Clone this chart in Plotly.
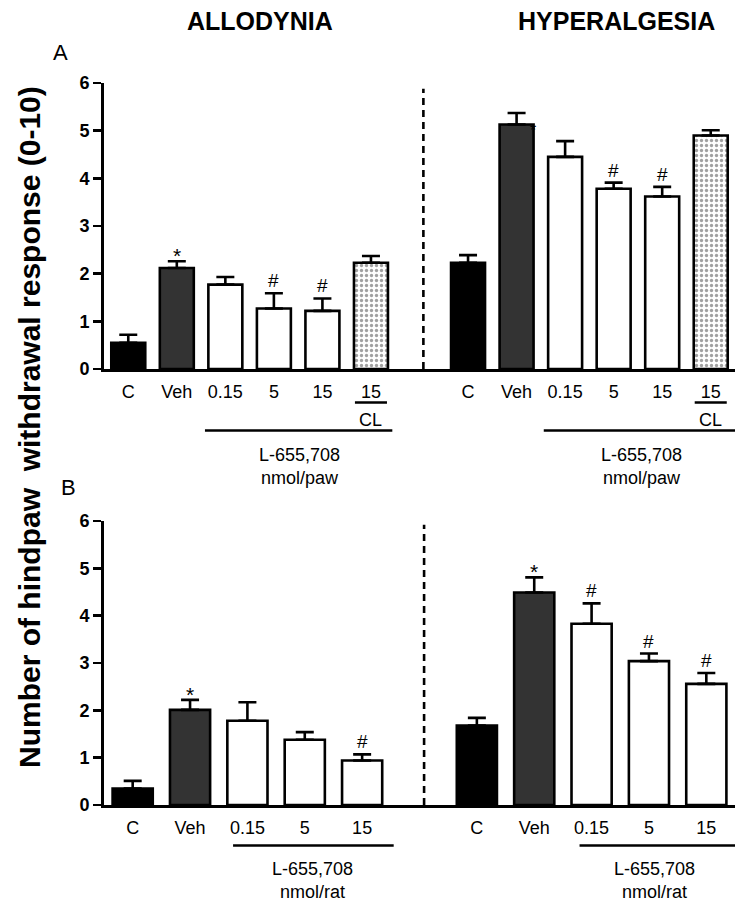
import plotly.graph_objects as go

# ---------------- data ----------------
groups_A = ["C", "Veh", "0.15", "5", "15", "15"]
groups_B = ["C", "Veh", "0.15", "5", "15"]

allo_A_mean = [0.55, 2.12, 1.77, 1.27, 1.22, 2.23]
allo_A_sem = [0.17, 0.14, 0.16, 0.32, 0.26, 0.14]
hyper_A_mean = [2.23, 5.13, 4.45, 3.78, 3.62, 4.90]
hyper_A_sem = [0.16, 0.24, 0.33, 0.13, 0.20, 0.11]

allo_B_mean = [0.35, 2.01, 1.78, 1.38, 0.94]
allo_B_sem = [0.16, 0.21, 0.39, 0.16, 0.13]
hyper_B_mean = [1.68, 4.49, 3.83, 3.04, 2.56]
hyper_B_sem = [0.16, 0.32, 0.43, 0.16, 0.23]

# significance marks ("" = none)
allo_A_sig = ["", "*", "", "#", "#", ""]
hyper_A_sig = ["", "", "", "#", "#", ""]
allo_B_sig = ["", "*", "", "", "#"]
hyper_B_sig = ["", "*", "#", "#", "#"]

# ---------------- layout constants ----------------
W, H = 751, 908
ML, MR = 104, 16
FONT = "Liberation Sans, Arial, sans-serif"
NARROW = "Liberation Sans Narrow, Arial Narrow, Liberation Sans, Arial, sans-serif"

def py(px):
    return 1 - px / H

def px_x(px):
    return (px - ML) / (W - ML - MR)

fill_A = ["black", "#333333", "white", "white", "white", "white"]
shape_A = ["", "", "", "", "", "."]
fill_B = ["black", "#333333", "white", "white", "white"]

pos_A_allo = [0, 1, 2, 3, 4, 5]
pos_A_hyper = [7, 8, 9, 10, 11, 12]
pos_B_allo = [0, 1, 2, 3, 4]
pos_B_hyper = [6, 7, 8, 9, 10]

fig = go.Figure()

def add_bars(xpos, means, sems, fills, shapes, xa, ya):
    fig.add_trace(go.Bar(
        x=xpos, y=means, width=0.70,
        marker=dict(color=fills, line=dict(color="black", width=2.6),
                    pattern=dict(shape=shapes, fgcolor="black", bgcolor="white",
                                 size=5, solidity=0.35)),
        error_y=dict(type="data", array=sems, arrayminus=[0] * len(sems),
                     symmetric=False, color="black", thickness=2.6, width=9),
        xaxis=xa, yaxis=ya, showlegend=False, hoverinfo="skip"))

add_bars(pos_A_allo, allo_A_mean, allo_A_sem, fill_A, shape_A, "x", "y")
add_bars(pos_A_hyper, hyper_A_mean, hyper_A_sem, fill_A, shape_A, "x", "y")
add_bars(pos_B_allo, allo_B_mean, allo_B_sem, fill_B, [""] * 5, "x2", "y2")
add_bars(pos_B_hyper, hyper_B_mean, hyper_B_sem, fill_B, [""] * 5, "x2", "y2")

annotations = []

def ann(**kw):
    kw.setdefault("showarrow", False)
    kw.setdefault("xanchor", "center")
    kw.setdefault("yanchor", "middle")
    annotations.append(kw)

def add_sig(xpos, means, sems, sigs, xr, yr):
    for xp, m, s, sg in zip(xpos, means, sems, sigs):
        if not sg:
            continue
        if sg == "*":
            ann(x=xp, y=m + s, xref=xr, yref=yr, text="*", yanchor="bottom", yshift=-8,
                font=dict(family=FONT, size=21, color="black"))
        else:
            ann(x=xp, y=m + s, xref=xr, yref=yr, text="#", yanchor="bottom", yshift=0,
                font=dict(family=FONT, size=19, color="black"))

add_sig(pos_A_allo, allo_A_mean, allo_A_sem, allo_A_sig, "x", "y")
add_sig(pos_A_hyper, hyper_A_mean, hyper_A_sem, hyper_A_sig, "x", "y")
add_sig(pos_B_allo, allo_B_mean, allo_B_sem, allo_B_sig, "x2", "y2")
add_sig(pos_B_hyper, hyper_B_mean, hyper_B_sem, hyper_B_sig, "x2", "y2")

# the small star beside the hyperalgesia Veh bar in panel A
ann(x=8.33, y=hyper_A_mean[1] - 0.12, xref="x", yref="y", text="*",
    font=dict(family=FONT, size=16, color="black"))

shapes = []
# dashed dividers
shapes.append(dict(type="line", xref="x", yref="y", x0=6.08, x1=6.08, y0=0, y1=5.88,
                   line=dict(color="black", width=2.6, dash="7px,5px")))
shapes.append(dict(type="line", xref="x2", yref="y2", x0=5.08, x1=5.08, y0=0, y1=5.92,
                   line=dict(color="black", width=2.6, dash="7px,5px")))

lab_font = dict(family=NARROW, size=18, color="black")

# panel A: CL labels and group lines
for cx in (5, 12):
    shapes.append(dict(type="line", xref="x", yref="paper", x0=cx - 0.33, x1=cx + 0.33,
                       y0=py(402.5), y1=py(402.5), line=dict(color="black", width=2.6)))
    ann(x=cx, y=py(420), xref="x", yref="paper", text="CL", font=lab_font)
for x0, x1, cx in ((1.58, 5.44, 3.52), (8.56, 12.55, 10.57)):
    shapes.append(dict(type="line", xref="x", yref="paper", x0=x0, x1=x1,
                       y0=py(430.5), y1=py(430.5), line=dict(color="black", width=2.6)))
    ann(x=cx, y=py(466), xref="x", yref="paper", text="L-655,708<br>nmol/paw", font=lab_font)

# panel B group lines
for x0, x1, cx in ((1.75, 4.55, 3.13), (7.79, 10.54, 9.1)):
    shapes.append(dict(type="line", xref="x2", yref="paper", x0=x0, x1=x1,
                       y0=py(845.5), y1=py(845.5), line=dict(color="black", width=2.6)))
    ann(x=cx, y=py(880), xref="x2", yref="paper", text="L-655,708<br>nmol/rat", font=lab_font)

# titles and panel letters
ann(x=px_x(260), y=py(21), xref="paper", yref="paper", text="<b>ALLODYNIA</b>",
    font=dict(family=FONT, size=25, color="black"))
ann(x=px_x(616), y=py(21), xref="paper", yref="paper", text="<b>HYPERALGESIA</b>",
    font=dict(family=FONT, size=25, color="black"))
ann(x=px_x(60), y=py(52), xref="paper", yref="paper", text="A",
    font=dict(family=FONT, size=22, color="black"))
ann(x=px_x(68), y=py(487), xref="paper", yref="paper", text="B",
    font=dict(family=FONT, size=22, color="black"))
ann(x=px_x(30), y=py(427), xref="paper", yref="paper",
    text="<b>Number of hindpaw  withdrawal response (0-10)</b>", textangle=-90,
    font=dict(family=FONT, size=30, color="black"))

xaxis_common = dict(showline=True, linecolor="black", linewidth=3, ticks="",
                    showgrid=False, zeroline=False, tickfont=lab_font,
                    ticklabelstandoff=4, automargin=False)
yaxis_common = dict(showline=True, linecolor="black", linewidth=3, ticks="outside",
                    ticklen=8, tickwidth=2.6, tickcolor="black", showgrid=False,
                    zeroline=False, range=[0, 6], tickvals=[0, 1, 2, 3, 4, 5, 6],
                    automargin=False,
                    tickfont=dict(family=FONT, size=18, color="black", weight="bold"))

fig.update_layout(
    width=W, height=H,
    margin=dict(l=ML, r=MR, t=0, b=0, pad=0, autoexpand=False),
    plot_bgcolor="white", paper_bgcolor="white",
    bargap=0,
    xaxis=dict(**xaxis_common, range=[-0.5, 12.5], domain=[0, 1], anchor="y",
               tickvals=pos_A_allo + pos_A_hyper, ticktext=groups_A + groups_A),
    yaxis=dict(**yaxis_common, domain=[py(369), py(83)], anchor="x"),
    xaxis2=dict(**xaxis_common, range=[-0.5, 10.5], domain=[0, 1], anchor="y2",
                tickvals=pos_B_allo + pos_B_hyper, ticktext=groups_B + groups_B),
    yaxis2=dict(**yaxis_common, domain=[py(805), py(521)], anchor="x2"),
    annotations=annotations,
    shapes=shapes,
)

fig.write_html("out.html", config={"displayModeBar": False, "staticPlot": True},
               post_script="document.body.style.margin='0';")
